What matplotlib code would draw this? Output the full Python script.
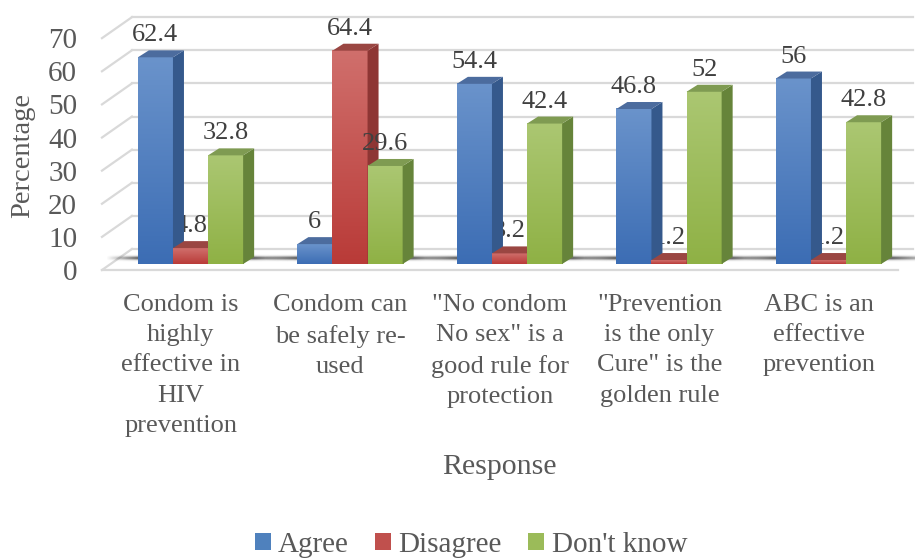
import numpy as np
import matplotlib
matplotlib.use('Agg')
import matplotlib.pyplot as plt
from matplotlib.patches import Polygon, Patch
from matplotlib.colors import to_rgb

# data
categories = ['Condom is\nhighly\neffective in\nHIV\nprevention',
              'Condom can\nbe safely re-\nused',
              '"No condom\nNo sex" is a\ngood rule for\nprotection',
              '"Prevention\nis the only\nCure" is the\ngolden rule',
              'ABC is an\neffective\nprevention']
series = ['Agree', 'Disagree', "Don't know"]
agree = [62.4, 6, 54.4, 46.8, 56]
disagree = [4.8, 64.4, 3.2, 1.2, 1.2]
dont_know = [32.8, 29.6, 42.4, 52, 42.8]
yticks = [0, 10, 20, 30, 40, 50, 60, 70]

# fake 3d look (excel style columns)
styles = [  # front top, front bottom, side, top
    ('#6a93cb', '#3c6db4', '#35598c', '#4c6c9e'),
    ('#d06f6c', '#b93b38', '#8e3634', '#9a4642'),
    ('#abc772', '#8fb145', '#66843a', '#7f9b52'),
]
legend_colors = ['#4f81bd', '#c0504d', '#9bbb59']
BAR_W = 0.22
DEPTH_X, DEPTH_Y = 0.069, 2.11
FRONT_X, BACK_X0, BACK_X1, FLOOR_X1 = -0.555, -0.367, 4.53, 4.436
FRONT_DY, BACK_DY = -1.81, 4.53
GRID = '#d9d9d9'
TXT = '#595959'

plt.rcParams['font.family'] = ['Liberation Serif', 'DejaVu Serif']

fig = plt.figure(figsize=(9.15, 5.6), dpi=100)
ax = fig.add_axes([100/915, 0.5, 815/915, 275/560])

# walls / gridlines
for g in yticks:
    ax.plot([BACK_X0, BACK_X1], [g + BACK_DY]*2, color=GRID, lw=1.6, zorder=0)
    ax.plot([FRONT_X, BACK_X0], [g + FRONT_DY, g + BACK_DY], color=GRID, lw=1.6, zorder=0)
ax.plot([FRONT_X, FLOOR_X1], [FRONT_DY]*2, color=GRID, lw=1.6, zorder=0)

x = np.arange(len(categories))

# floor shadow
for i in x:
    left = i - 1.5*BAR_W
    right = i + 1.5*BAR_W + DEPTH_X
    e0, e1 = left - 0.2, right + 0.32
    xs = np.linspace(e0, e1, 200)
    ys = np.linspace(0.7, 3.1, 40)
    ax_alpha = np.interp(xs, [e0, left, right, e1], [0, 0.75, 0.75, 0])
    ay = np.exp(-((ys - 1.9) / 0.55)**2)
    img = np.zeros((len(ys), len(xs), 4))
    img[..., :3] = 0.15
    img[..., 3] = ay[:, None] * ax_alpha[None, :]
    ax.imshow(img, extent=(e0, e1, 0.7, 3.1), aspect='auto', origin='lower',
              interpolation='bilinear', zorder=1)

values = [agree, disagree, dont_know]
for s, vals in enumerate(values):
    ftop, fbot, side, top = styles[s]
    grad = np.linspace(to_rgb(ftop), to_rgb(fbot), 100)[:, None, :]
    for i, v in zip(x, vals):
        x0 = i + (s - 1.5)*BAR_W
        x1 = x0 + BAR_W
        z = 2 + s
        ax.imshow(grad, extent=(x0, x1, 0, v), aspect='auto', origin='upper',
                  interpolation='bilinear', zorder=z)
        ax.add_patch(Polygon([(x1, 0), (x1 + DEPTH_X, DEPTH_Y), (x1 + DEPTH_X, v + DEPTH_Y), (x1, v)],
                             closed=True, facecolor=side, edgecolor='none', zorder=z))
        ax.add_patch(Polygon([(x0, v), (x1, v), (x1 + DEPTH_X, v + DEPTH_Y), (x0 + DEPTH_X, v + DEPTH_Y)],
                             closed=True, facecolor=top, edgecolor='none', zorder=z))
        lz = 1.5 if s == 1 else 6
        ax.text(x0 + BAR_W/2, v + DEPTH_Y + 2.7, f'{v:g}', ha='center', va='baseline',
                fontsize=19, color='#404040', zorder=lz)

# category labels
for i, lab in zip(x, categories):
    ax.text(i - 0.06, -9.0, lab, ha='center', va='top', fontsize=19, color=TXT,
            linespacing=1.49)

ax.set_xlim(-0.5674, 4.5423)
ax.set_ylim(-4.83, 78.2)
ax.set_xticks([])
ax.set_yticks([g + FRONT_DY for g in yticks], labels=[str(g) for g in yticks])
ax.tick_params(axis='y', length=0, pad=16.5, labelsize=21, labelcolor=TXT)
for sp in ax.spines.values():
    sp.set_visible(False)
ax.patch.set_alpha(0)

fig.text(23/915, 1 - 155/560, 'Percentage', rotation=90, ha='center', va='center',
         fontsize=20.5, color=TXT)
fig.text(499/915, 1 - 467/560, 'Response', ha='center', va='center', fontsize=21.5, color=TXT)

handles = [Patch(facecolor=c, edgecolor='none') for c in legend_colors]
fig.legend(handles, series, loc='center', bbox_to_anchor=(471/915, 1 - 545/560), ncol=3,
           frameon=False, fontsize=21, handlelength=0.55, handleheight=0.55,
           handletextpad=0.25, columnspacing=0.9, labelcolor=TXT, borderpad=0)

fig.savefig('out.png', dpi=100)
